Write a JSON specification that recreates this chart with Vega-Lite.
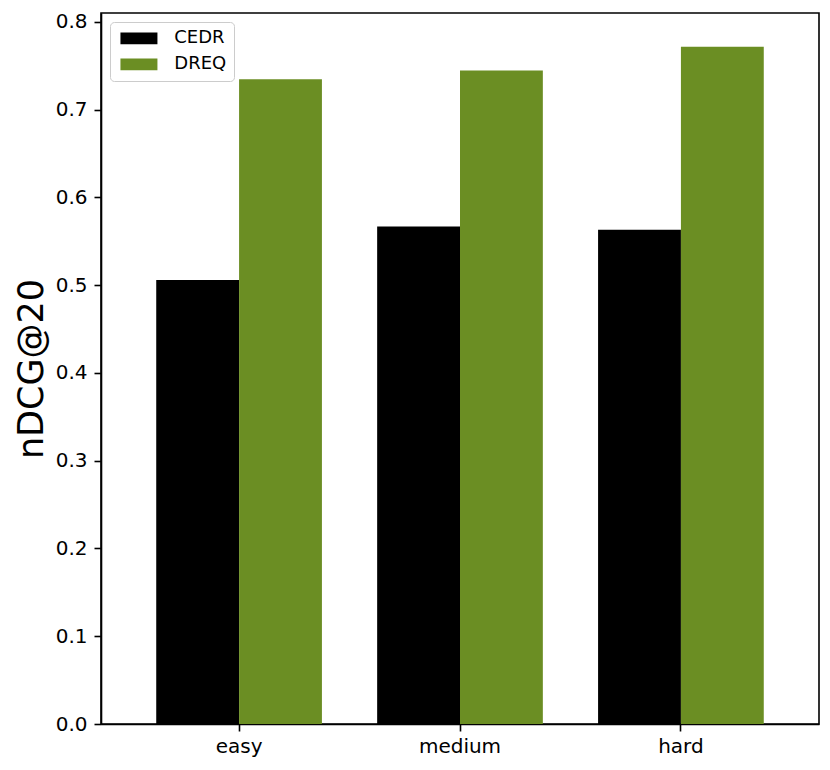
{
  "$schema": "https://vega.github.io/schema/vega-lite/v6.json",
  "width": 718,
  "height": 711,
  "autosize": {"type": "none"},
  "padding": {"left": 101, "top": 13, "right": 11, "bottom": 46},
  "background": "white",
  "data": {
    "values": [
      {"difficulty": "easy", "model": "CEDR", "ndcg": 0.5058},
      {"difficulty": "easy", "model": "DREQ", "ndcg": 0.7344},
      {"difficulty": "medium", "model": "CEDR", "ndcg": 0.5669},
      {"difficulty": "medium", "model": "DREQ", "ndcg": 0.7446},
      {"difficulty": "hard", "model": "CEDR", "ndcg": 0.5631},
      {"difficulty": "hard", "model": "DREQ", "ndcg": 0.7715}
    ]
  },
  "mark": {"type": "bar"},
  "encoding": {
    "x": {
      "field": "difficulty",
      "type": "nominal",
      "sort": ["easy", "medium", "hard"],
      "scale": {"paddingInner": 0.25, "paddingOuter": 0.25},
      "axis": {"title": null, "labelAngle": 0, "labelPadding": 5}
    },
    "xOffset": {
      "field": "model",
      "type": "nominal",
      "sort": ["CEDR", "DREQ"],
      "scale": {"paddingInner": 0, "paddingOuter": 0}
    },
    "y": {
      "field": "ndcg",
      "type": "quantitative",
      "scale": {"domain": [0, 0.81], "nice": false},
      "axis": {
        "title": "nDCG@20",
        "values": [0, 0.1, 0.2, 0.3, 0.4, 0.5, 0.6, 0.7, 0.8],
        "format": ".1f",
        "titleFontSize": 35,
        "titleFontWeight": "normal",
        "titleX": -59,
        "titleY": 355.5,
        "titleBaseline": "alphabetic"
      }
    },
    "color": {
      "field": "model",
      "type": "nominal",
      "scale": {"domain": ["CEDR", "DREQ"], "range": ["#000000", "#6b8e23"]},
      "legend": {
        "title": null,
        "orient": "top-left",
        "offset": 9,
        "padding": 7.3,
        "fillColor": "white",
        "strokeColor": "#cccccc",
        "cornerRadius": 4,
        "symbolType": "M-1,-1L5.32,-1L5.32,1L-1,1Z",
        "symbolSize": 137,
        "symbolStrokeWidth": 0,
        "symbolOpacity": 1,
        "labelFontSize": 18,
        "labelOffset": 39,
        "rowPadding": 8,
        "labelColor": "black"
      }
    }
  },
  "config": {
    "font": "DejaVu Sans",
    "view": {"stroke": "black", "strokeWidth": 1.6},
    "axis": {
      "domainColor": "black",
      "domainWidth": 1.6,
      "tickColor": "black",
      "tickWidth": 1.6,
      "tickSize": 7,
      "labelPadding": 7,
      "labelFontSize": 20,
      "labelColor": "black",
      "titleColor": "black",
      "grid": false
    }
  }
}
